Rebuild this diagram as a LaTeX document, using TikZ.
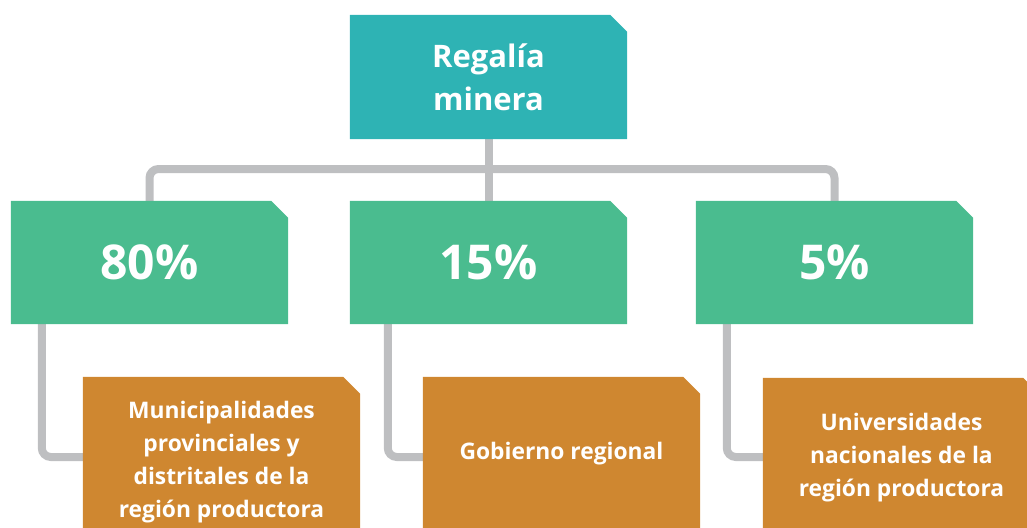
\documentclass[tikz,border=0pt]{standalone}
\usepackage{fontspec}
\setmainfont{Open Sans}
\usetikzlibrary{backgrounds}
\definecolor{topc}{HTML}{2EB3B4}
\definecolor{greenc}{HTML}{4ABC8F}
\definecolor{orangec}{HTML}{CF8730}
\definecolor{linec}{HTML}{BEBFC1}
\newcommand{\chamfill}[2]{\fill[#2] (#1.south west) -- (#1.north west) -- ([xshift=-17pt]#1.north east) -- ([yshift=-17pt]#1.north east) -- (#1.south east) -- cycle;}
\tikzset{
  box/.style={minimum width=277pt, inner sep=0pt, text=white, font=\bfseries, align=center},
  topbox/.style={box, minimum height=124pt, font=\bfseries\fontsize{31}{43}\selectfont},
  pctbox/.style={box, minimum height=123pt, font=\bfseries\fontsize{48}{50}\selectfont},
  leafbox/.style={box, minimum height=160pt, font=\bfseries\fontsize{22.8}{33}\selectfont},
  conn/.style={draw=linec, line width=8pt, rounded corners=9pt}
}
\begin{document}
\begin{tikzpicture}[x=1pt,y=-1pt]
\path[use as bounding box, clip] (0,0) rectangle (1027,527);
\node[topbox] (top) at (488.5,77) {Regalía\\minera};
\node[pctbox] (g1) at (149.5,262.5) {80\%};
\node[pctbox] (g2) at (488.5,262.5) {15\%};
\node[pctbox] (g3) at (834.5,262.5) {5\%};
\node[leafbox, minimum height=170pt] (o1) at (221.5,462) {Municipalidades\\provinciales y\\distritales de la\\región productora};
\node[leafbox, minimum height=154pt] (o2) at (561.5,454) {Gobierno regional};
\node[leafbox] (o3) at (901.5,458) {Universidades\\nacionales de la\\región productora};
\begin{pgfonlayer}{background}
\draw[conn] (top.south) -- (g2.north);
\draw[conn] (g1.north) -- (g1.north |- 0,169) -- (g3.north |- 0,169) -- (g3.north);
\draw[conn] ([xshift=31pt]g1.south west) |- (o1.west |- 0,457);
\draw[conn] ([xshift=38pt]g2.south west) |- (o2.west |- 0,457);
\draw[conn] ([xshift=31pt]g3.south west) |- (o3.west |- 0,457);
\chamfill{top}{topc}
\chamfill{g1}{greenc}
\chamfill{g2}{greenc}
\chamfill{g3}{greenc}
\chamfill{o1}{orangec}
\chamfill{o2}{orangec}
\chamfill{o3}{orangec}
\end{pgfonlayer}
\end{tikzpicture}
\end{document}
